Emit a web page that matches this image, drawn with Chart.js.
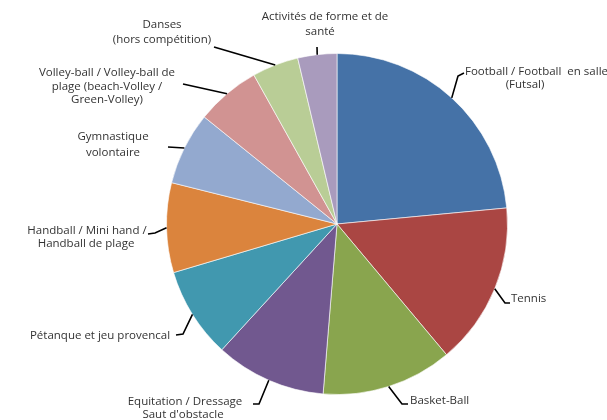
<!DOCTYPE html>
<html>
<head>
<meta charset="utf-8">
<script src="https://cdn.jsdelivr.net/npm/chart.js@4"></script>
<style>
  html, body { margin: 0; padding: 0; background: #fff; }
  #wrap { width: 607px; height: 420px; }
</style>
</head>
<body>
<div id="wrap"><canvas id="pie"></canvas></div>
<script>
// catégories (une ligne de texte par entrée du sous-tableau)
const categories = [
  ["Football / Football  en salle", "(Futsal)"],
  ["Tennis"],
  ["Basket-Ball"],
  ["Equitation / Dressage", "Saut d'obstacle"],
  ["Pétanque et jeu provencal"],
  ["Handball / Mini hand /", "Handball de plage"],
  ["Gymnastique", "volontaire"],
  ["Volley-ball / Volley-ball de", "plage (beach-Volley /", "Green-Volley)"],
  ["Danses", "(hors compétition)"],
  ["Activités de forme et de", "santé"]
];
// parts en %
const shares = [23.5, 15.4, 12.4, 10.5, 8.6, 8.5, 6.9, 6.1, 4.4, 3.7];
const colors = ["#4572A7", "#AA4643", "#89A54E", "#71588F", "#4198AF",
                "#DB843D", "#93A9CF", "#D19392", "#B9CD96", "#A99BBD"];

// placement des étiquettes : coude + fin du trait, puis position du texte
const labelLayout = [
  { pts: [[458, 76], [464, 73]], text: [[465, 72, "left"], [525, 85, "center"]] },
  { pts: [[505, 303], [510, 303]], text: [[511, 299, "left"]] },
  { pts: [[402, 404], [408, 404]], text: [[410, 401, "left"]] },
  { pts: [[259, 404], [253, 404]], text: [[185, 402, "center"], [183, 415, "center"]] },
  { pts: [[183, 334], [176, 335]], text: [[100, 336, "center"]] },
  { pts: [[155, 233], [148, 234]], text: [[87, 231, "center"], [86, 244, "center"]] },
  { pts: [[168, 147]], text: [[113, 137, "center"], [113, 153, "center"]] },
  { pts: [[183, 84]], text: [[107, 73, "center"], [107, 87, "center"], [107, 100, "center"]] },
  { pts: [[214, 47]], text: [[162, 25, "center"], [162, 40, "center"]] },
  { pts: [[317, 47]], text: [[325, 17, "center"], [320, 32, "center"]] }
];

const leaderLabels = {
  id: "leaderLabels",
  afterDatasetsDraw(chart) {
    const ctx = chart.ctx;
    const arcs = chart.getDatasetMeta(0).data;
    ctx.save();
    ctx.font = "11.5px 'Open Sans', sans-serif";
    ctx.fillStyle = "#333";
    ctx.textBaseline = "middle";
    arcs.forEach((arc, i) => {
      const { x, y, startAngle, endAngle, outerRadius } = arc.getProps(["x", "y", "startAngle", "endAngle", "outerRadius"], true);
      const mid = (startAngle + endAngle) / 2;
      const sx = x + Math.cos(mid) * outerRadius;
      const sy = y + Math.sin(mid) * outerRadius;
      const lay = labelLayout[i];
      ctx.beginPath();
      ctx.strokeStyle = "#000";
      ctx.lineWidth = 1.6;
      ctx.moveTo(sx, sy);
      lay.pts.forEach(p => ctx.lineTo(p[0], p[1]));
      ctx.stroke();
      categories[i].forEach((line, k) => {
        const t = lay.text[k];
        ctx.textAlign = t[2];
        ctx.fillText(line, t[0], t[1]);
      });
    });
    ctx.restore();
  }
};

const ctx = document.getElementById("pie").getContext("2d");
new Chart(ctx, {
  type: "pie",
  data: {
    labels: categories.map(c => c.join(" ")),
    datasets: [{
      data: shares,
      backgroundColor: colors,
      borderColor: "rgba(255,255,255,0.6)",
      borderWidth: 1,
      hoverOffset: 0
    }]
  },
  options: {
    responsive: true,
    maintainAspectRatio: false,
    animation: false,
    layout: { padding: { top: 53, bottom: 25, left: 160, right: 93 } },
    plugins: { legend: { display: false }, tooltip: { enabled: false } }
  },
  plugins: [leaderLabels]
});
</script>
</body>
</html>
